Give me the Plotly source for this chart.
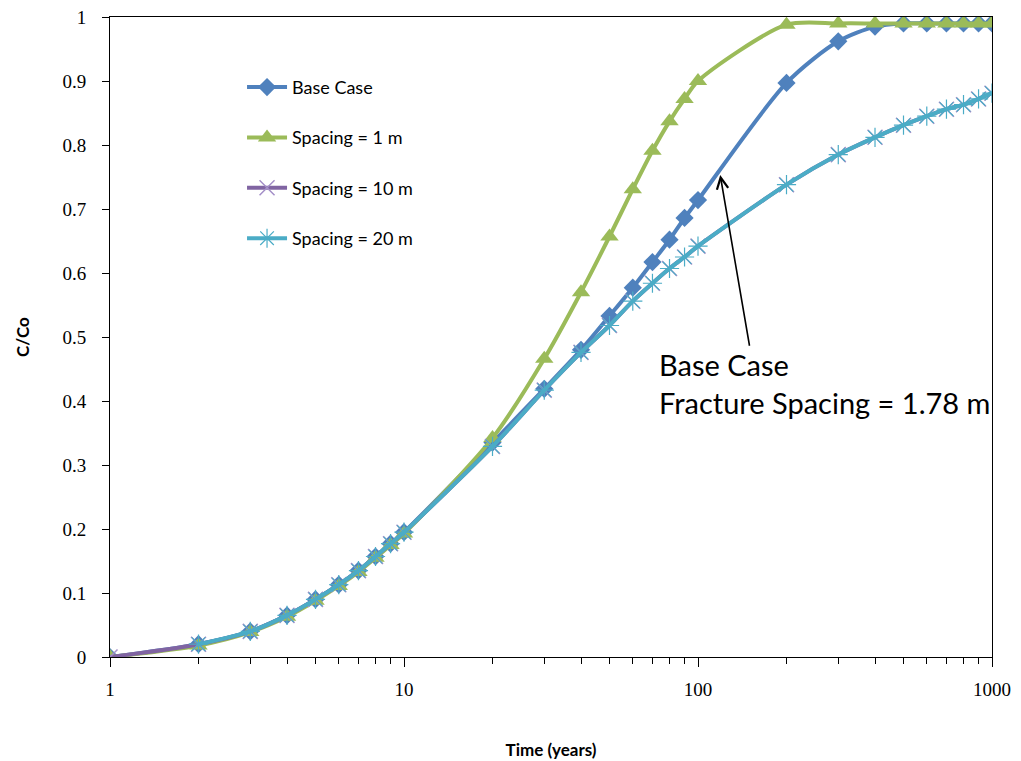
import math
import plotly.graph_objects as go

times = [1, 2, 3, 4, 5, 6, 7, 8, 9, 10, 20, 30, 40, 50, 60, 70, 80, 90, 100,
         200, 300, 400, 500, 600, 700, 800, 900, 1000]
times_20 = times[1:]

base_case = [0.0, 0.02, 0.04, 0.065, 0.09, 0.113, 0.135, 0.157, 0.177, 0.195,
             0.335, 0.419, 0.48, 0.533, 0.577, 0.617, 0.652, 0.686, 0.714,
             0.897, 0.962, 0.985, 0.99, 0.99, 0.99, 0.99, 0.99, 0.99]
spacing_1 = [0.0, 0.018, 0.039, 0.063, 0.088, 0.111, 0.133, 0.155, 0.175, 0.193,
             0.342, 0.466, 0.570, 0.657, 0.731, 0.791, 0.837, 0.872, 0.9,
             0.988, 0.99, 0.99, 0.99, 0.99, 0.99, 0.99, 0.99, 0.99]
spacing_10 = [0.0, 0.02, 0.04, 0.065, 0.09, 0.113, 0.135, 0.157, 0.177, 0.195,
              0.329, 0.417, 0.476, 0.518, 0.556, 0.584, 0.607, 0.625, 0.642,
              0.738, 0.785, 0.812, 0.831, 0.845, 0.856, 0.863, 0.872, 0.881]
spacing_20 = [0.02, 0.04, 0.065, 0.09, 0.113, 0.135, 0.157, 0.177, 0.195,
              0.329, 0.417, 0.476, 0.518, 0.556, 0.584, 0.607, 0.625, 0.642,
              0.738, 0.785, 0.812, 0.831, 0.845, 0.856, 0.863, 0.872, 0.881]

y_ticks = [0, 0.1, 0.2, 0.3, 0.4, 0.5, 0.6, 0.7, 0.8, 0.9, 1]
y_tick_labels = ["0", "0.1", "0.2", "0.3", "0.4", "0.5", "0.6", "0.7", "0.8", "0.9", "1"]
x_ticks = [1, 10, 100, 1000]
x_tick_labels = ["1", "10", "100", "1000"]
x_minor_ticks = [2, 3, 4, 5, 6, 7, 8, 9, 20, 30, 40, 50, 60, 70, 80, 90,
                 200, 300, 400, 500, 600, 700, 800, 900]

BLUE = "#4F81BD"
GREEN = "#9BBB59"
PURPLE = "#8064A2"
CYAN = "#4BACC6"

fig = go.Figure()
fig.add_trace(go.Scatter(
    x=times, y=base_case, name="Base Case", mode="lines+markers",
    line=dict(color=BLUE, width=4, shape="spline", smoothing=0.8),
    marker=dict(symbol="diamond", size=14, color=BLUE),
    legendgroup="a"))
fig.add_trace(go.Scatter(
    x=times, y=spacing_1, name="Spacing = 1 m", mode="lines+markers",
    line=dict(color=GREEN, width=4, shape="spline", smoothing=0.8),
    marker=dict(symbol="triangle-up", size=16, color=GREEN),
    legendgroup="b"))
fig.add_trace(go.Scatter(
    x=times, y=spacing_10, name="Spacing = 10 m", mode="lines+markers",
    line=dict(color=PURPLE, width=4, shape="spline", smoothing=0.8),
    marker=dict(symbol="x-thin", size=15, line=dict(color="#A48FC8", width=1.5)),
    legendgroup="c"))
fig.add_trace(go.Scatter(
    x=times_20, y=spacing_20, name="Spacing = 20 m", mode="lines+markers",
    line=dict(color=CYAN, width=4, shape="spline", smoothing=0.8),
    marker=dict(symbol="asterisk-open", size=16, line=dict(color=CYAN, width=1.2)),
    legendgroup="d"))
# invisible helper trace to activate the overlaid major-tick axis
fig.add_trace(go.Scatter(
    x=[times[0], times[-1]], y=[None, None], xaxis="x2", mode="lines",
    showlegend=False, hoverinfo="skip"))

# annotation arrow (log axis: positions in log10 units)
fig.add_annotation(
    x=math.log10(119), y=0.753, ax=math.log10(150), ay=0.484,
    xref="x", yref="y", axref="x", ayref="y",
    text="", showarrow=True, arrowhead=5, arrowsize=1.4, arrowwidth=1.6,
    arrowcolor="black")
fig.add_annotation(
    x=math.log10(72.5), y=0.488, xref="x", yref="y",
    xanchor="left", yanchor="top", align="left", showarrow=False,
    text="Base Case<br>Fracture Spacing = 1.78 m",
    font=dict(family="Lato, Open Sans, sans-serif", size=29, color="black"))

axis_font = dict(family="Liberation Serif, serif", size=19, color="black")
title_font = dict(family="Lato, Open Sans, sans-serif", size=17, color="black")

fig.update_layout(
    xaxis=dict(
        type="log", range=[0, 3],
        tickvals=x_minor_ticks, ticktext=[""] * len(x_minor_ticks),
        ticks="outside", ticklen=6, tickcolor="black", tickwidth=1.2,
        showline=True, linecolor="black", linewidth=1, mirror=True,
        showgrid=False, zeroline=False, automargin=False),
    xaxis2=dict(
        type="log", range=[0, 3], overlaying="x", anchor="y", side="bottom",
        tickvals=x_ticks, ticktext=x_tick_labels,
        ticks="outside", ticklen=9, tickcolor="black", tickwidth=1.2,
        showline=False, showgrid=False, zeroline=False, tickfont=axis_font,
        ticklabelstandoff=6, automargin=False,
        title=dict(text="<b>Time (years)</b>", font=title_font, standoff=45)),
    yaxis=dict(
        range=[0, 1], tickvals=y_ticks, ticktext=y_tick_labels,
        ticks="outside", ticklen=7, tickcolor="black", tickwidth=1.2,
        showline=True, linecolor="black", linewidth=1, mirror=True,
        showgrid=False, zeroline=False, tickfont=axis_font,
        ticklabelstandoff=12, automargin=False,
        title=dict(text="<b>C/Co</b>", font=title_font, standoff=28)),
    width=1021, height=761,
    margin=dict(l=110, r=29, t=17, b=104),
    paper_bgcolor="white", plot_bgcolor="white",
    legend=dict(x=0.1497, y=0.919, xanchor="left", yanchor="top",
                font=dict(family="Lato, Open Sans, sans-serif", size=18, color="black"),
                tracegroupgap=24, bgcolor="rgba(0,0,0,0)", itemwidth=40),
    showlegend=True)

fig.write_html("out.html")
